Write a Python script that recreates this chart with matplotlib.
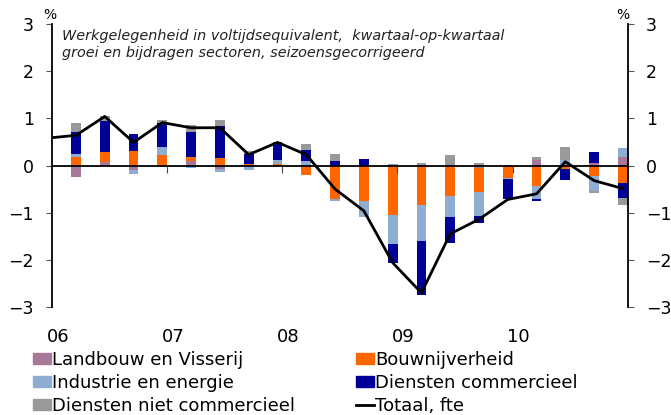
import matplotlib.pyplot as plt
import matplotlib.patches as mpatches
import matplotlib.lines as mlines
import numpy as np
import pandas as pd

# kwartalen 2006Q1 - 2010Q4 (bijdragen), lijn begint in 2005Q4
quarters = pd.period_range('2006Q1', '2010Q4', freq='Q')
line_quarters = pd.period_range('2005Q4', '2010Q4', freq='Q')

landbouw = [-0.25, 0.08, -0.10, -0.03, 0.09, -0.08, 0.00, 0.00, 0.00, 0.00,
            0.00, 0.00, 0.00, 0.00, -0.05, 0.02, 0.11, 0.02, 0.05, 0.17]
bouw = [0.18, 0.20, 0.31, 0.22, 0.10, 0.15, 0.03, 0.03, -0.21, -0.70,
        -0.76, -1.04, -0.83, -0.64, -0.51, -0.27, -0.43, -0.08, -0.23, -0.38]
industrie = [0.06, -0.02, -0.07, 0.17, -0.05, -0.05, -0.09, 0.08, 0.10, -0.05,
             -0.33, -0.62, -0.78, -0.45, -0.51, -0.02, -0.28, 0.09, -0.31, 0.20]
diensten_comm = [0.48, 0.66, 0.35, 0.51, 0.53, 0.68, 0.22, 0.39, 0.22, 0.10,
                 0.13, -0.41, -1.13, -0.56, -0.14, -0.43, -0.05, -0.22, 0.23, -0.31]
diensten_niet = [0.19, 0.10, 0.00, 0.07, 0.13, 0.14, 0.05, 0.00, 0.13, 0.14,
                 0.00, 0.03, 0.05, 0.22, 0.05, 0.00, 0.07, 0.28, -0.05, -0.14]
totaal = [0.58, 0.64, 1.04, 0.49, 0.91, 0.80, 0.80, 0.23, 0.49, 0.23, -0.50,
          -0.96, -2.06, -2.70, -1.45, -1.14, -0.72, -0.60, 0.08, -0.32, -0.49]

series = [
    ('Landbouw en Visserij', landbouw, '#A8789B'),
    ('Bouwnijverheid', bouw, '#FF6600'),
    ('Industrie en energie', industrie, '#8DADD3'),
    ('Diensten commercieel', diensten_comm, '#000099'),
    ('Diensten niet commercieel', diensten_niet, '#999999'),
]
years = [2006, 2007, 2008, 2009, 2010]
year_labels = ['06', '07', '08', '09', '10']

# midden van de laatste maand van elk kwartaal
x = quarters.year + (quarters.quarter * 3 - 0.5) / 12
x_line = line_quarters.year + (line_quarters.quarter * 3 - 0.5) / 12

fig = plt.figure(figsize=(6.71, 4.15), dpi=100)
ax = fig.add_axes([0.0775, 0.2602, 0.858, 0.682])

pos_bottom = np.zeros(len(x))
neg_bottom = np.zeros(len(x))
handles = {}
for name, vals, col in series:
    v = np.array(vals)
    bottom = np.where(v >= 0, pos_bottom, neg_bottom)
    ax.bar(x, v, width=0.085, bottom=bottom, color=col, linewidth=0)
    pos_bottom += np.clip(v, 0, None)
    neg_bottom += np.clip(v, None, 0)
    handles[name] = mpatches.Patch(color=col, label=name)

ax.plot(x_line, totaal, color='black', lw=2)
handles['Totaal, fte'] = mlines.Line2D([], [], color='black', lw=2, label='Totaal, fte')

ax.set_xlim(2006, 2011)
ax.set_ylim(-3, 3)

# spines: links en rechts, x-as op nul
ax.spines['top'].set_visible(False)
ax.spines['bottom'].set_position(('data', 0))
for s in ['left', 'right', 'bottom']:
    ax.spines[s].set_color('black')
    ax.spines[s].set_linewidth(1.3)

ax.set_xticks(years[1:])
ax.tick_params(axis='x', direction='out', length=5, width=0.8, color='#444444',
               labelbottom=False)
ax.set_yticks(range(-3, 4))
ax.yaxis.set_ticks_position('both')
ax.tick_params(axis='y', direction='out', length=4, width=0.8, color='#555555',
               labelsize=12.5, labelleft=True, labelright=True, pad=9)

# jaarlabels onderaan
sec = ax.secondary_xaxis(0.0)
sec.set_xticks([y + 0.05 for y in years], labels=year_labels)
sec.tick_params(length=0, pad=15, labelsize=13)
sec.spines['bottom'].set_visible(False)

fig.text(50 / 671, 1 - 15 / 415, '%', fontsize=10, ha='center', va='center')
fig.text(623 / 671, 1 - 15 / 415, '%', fontsize=10, ha='center', va='center')
fig.text(62 / 671, 1 - 44.5 / 415,
         'Werkgelegenheid in voltijdsequivalent,  kwartaal-op-kwartaal\n'
         'groei en bijdragen sectoren, seizoensgecorrigeerd',
         fontsize=10.4, style='italic', color='#222222', ha='left', va='center',
         linespacing=1.2)

order = ['Landbouw en Visserij', 'Industrie en energie', 'Diensten niet commercieel',
         'Bouwnijverheid', 'Diensten commercieel', 'Totaal, fte']
fig.legend([handles[k] for k in order], order, ncol=2, loc='upper left',
           bbox_to_anchor=(33 / 671, 1 - 351 / 415), frameon=False, fontsize=13,
           handlelength=1.0, handleheight=0.52, handletextpad=0.05,
           columnspacing=3.4, labelspacing=0.27, borderpad=0, borderaxespad=0)

fig.savefig('out.png', dpi=100)
